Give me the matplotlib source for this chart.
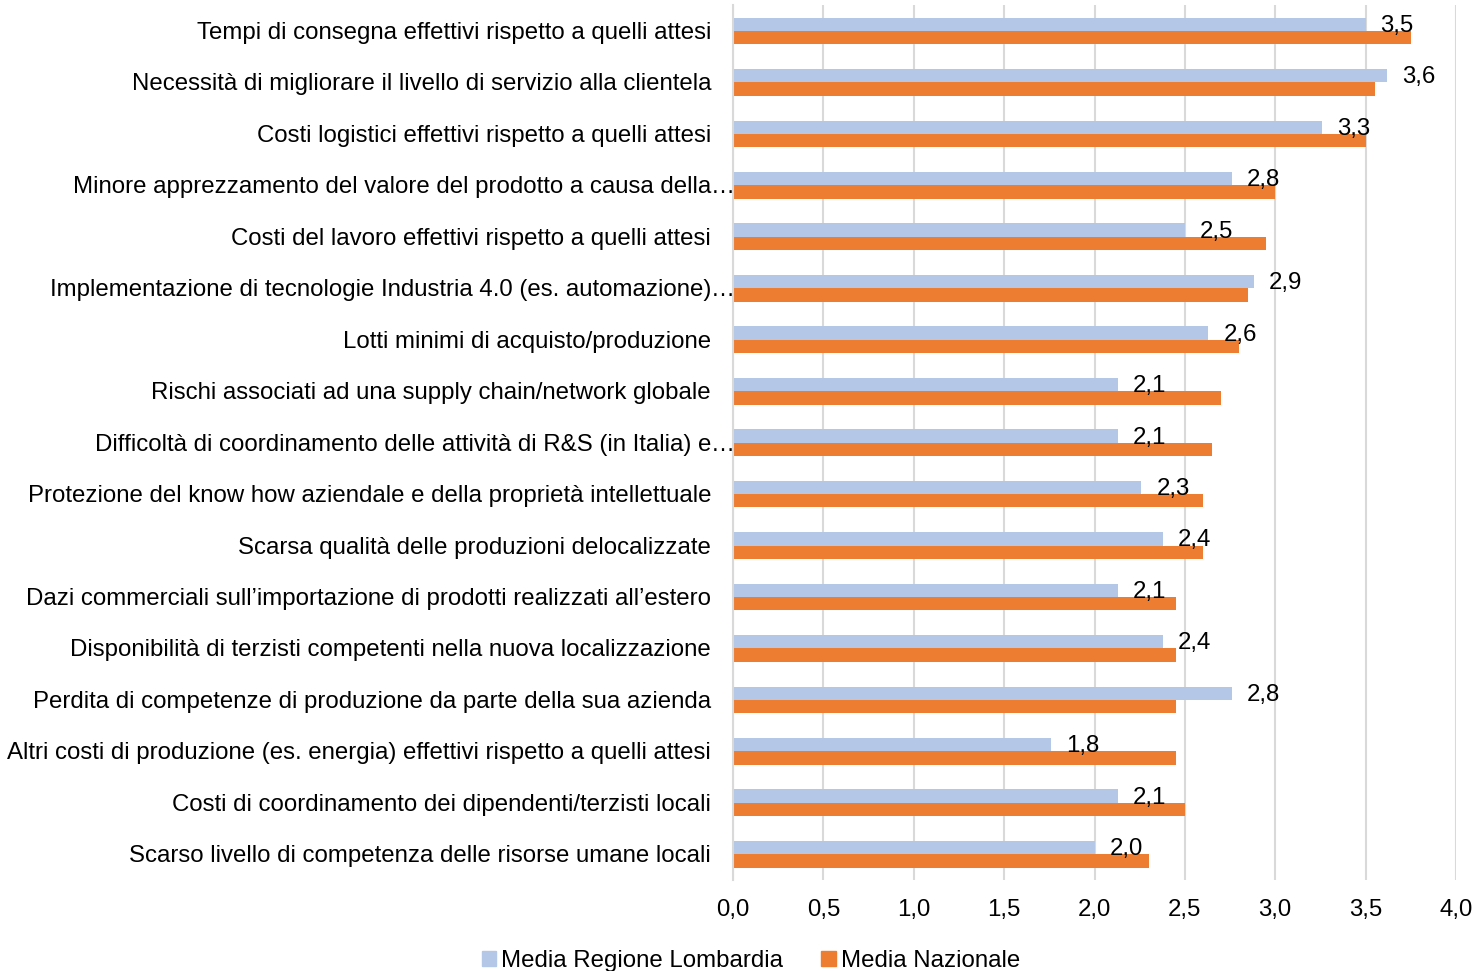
import matplotlib
matplotlib.use("Agg")
import matplotlib.pyplot as plt
from matplotlib.patches import Patch
import matplotlib.transforms as mtransforms

plt.rcParams['font.family'] = ['Liberation Sans', 'DejaVu Sans']

categories = [
    "Tempi di consegna effettivi rispetto a quelli attesi",
    "Necessità di migliorare il livello di servizio alla clientela",
    "Costi logistici effettivi rispetto a quelli attesi",
    "Minore apprezzamento del valore del prodotto a causa della…",
    "Costi del lavoro effettivi rispetto a quelli attesi",
    "Implementazione di tecnologie Industria 4.0 (es. automazione)…",
    "Lotti minimi di acquisto/produzione",
    "Rischi associati ad una supply chain/network globale",
    "Difficoltà di coordinamento delle attività di R&S (in Italia) e…",
    "Protezione del know how aziendale e della proprietà intellettuale",
    "Scarsa qualità delle produzioni delocalizzate",
    "Dazi commerciali sull’importazione di prodotti realizzati all’estero",
    "Disponibilità di terzisti competenti nella nuova localizzazione",
    "Perdita di competenze di produzione da parte della sua azienda",
    "Altri costi di produzione (es. energia) effettivi rispetto a quelli attesi",
    "Costi di coordinamento dei dipendenti/terzisti locali",
    "Scarso livello di competenza delle risorse umane locali",
]

lombardia = [3.50, 3.62, 3.26, 2.76, 2.50, 2.88, 2.63, 2.13, 2.13, 2.26,
             2.38, 2.13, 2.38, 2.76, 1.76, 2.13, 2.00]
nazionale = [3.75, 3.55, 3.50, 3.00, 2.95, 2.85, 2.80, 2.70, 2.65, 2.60,
             2.60, 2.45, 2.45, 2.45, 2.45, 2.50, 2.30]

series_names = ["Media Regione Lombardia", "Media Nazionale"]
xticks = [0.0, 0.5, 1.0, 1.5, 2.0, 2.5, 3.0, 3.5, 4.0]

blue = "#B4C7E7"
orange = "#ED7D31"
fs = 17.3

fig = plt.figure(figsize=(14.78, 9.71), dpi=100)
ax = fig.add_axes([733 / 1478, 1 - 880 / 971, (1456 - 733) / 1478, (880 - 5.3) / 971])

n = len(categories)
pos = list(range(n))
h = 0.26
ax.barh([p - h / 2 for p in pos], lombardia, height=h, color=blue, zorder=2)
ax.barh([p + h / 2 for p in pos], nazionale, height=h, color=orange, zorder=2)

def fmt(v):
    return f"{v:.1f}".replace(".", ",")

offset = mtransforms.offset_copy(ax.transData, fig=fig, x=15, y=0, units="dots")
for p, v in zip(pos, lombardia):
    ax.text(v, p - 0.1, fmt(v), transform=offset, ha="left", va="center",
            fontsize=fs, color="black", zorder=3)

ax.set_xlim(0, 4.0)
ax.set_ylim(n - 0.5, -0.5)
ax.set_xticks(xticks)
ax.set_xticklabels([fmt(t) for t in xticks], fontsize=fs)
ax.tick_params(axis="x", length=0, pad=14)
ax.set_yticks([])
ax.grid(axis="x", color="#D9D9D9", linewidth=1.5, zorder=0)
for s in ["top", "right", "bottom"]:
    ax.spines[s].set_visible(False)
ax.spines["left"].set_color("#D9D9D9")
ax.spines["left"].set_linewidth(1.5)

# Category labels: truncated ones keep the ellipsis hanging past the text edge
label_tr = mtransforms.offset_copy(ax.get_yaxis_transform(), fig=fig, x=-22, y=-2, units="dots")
for p, c in zip(pos, categories):
    if c.endswith("…"):
        ax.text(0, p, c[:-1], transform=label_tr, ha="right", va="center", fontsize=fs)
        ax.text(0, p, "…", transform=label_tr, ha="left", va="center", fontsize=fs)
    else:
        ax.text(0, p, c, transform=label_tr, ha="right", va="center", fontsize=fs)

handles = [Patch(color=blue), Patch(color=orange)]
fig.legend(handles, series_names, loc="center", bbox_to_anchor=(0.508, 1 - 961 / 971),
           ncol=2, frameon=False, fontsize=fs, handlelength=0.6, handleheight=0.6,
           handletextpad=0.2, columnspacing=1.6)

fig.savefig("out.png", dpi=100)
